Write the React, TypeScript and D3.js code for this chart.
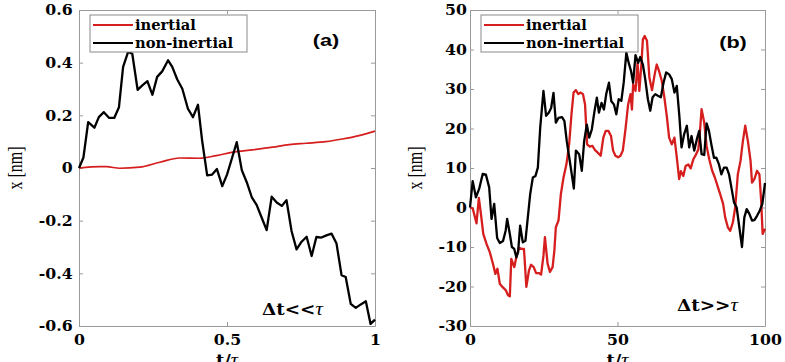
import React, { useEffect, useRef } from 'react';
import * as d3 from 'd3';

// panel (a): dt << tau, [t/tau, x in nm]
const aInertial = [
  [0, 0], [0.071, 0.005], [0.093, 0.005], [0.138, -0.001], [0.205, 0.003], [0.273, 0.022],
  [0.34, 0.038], [0.407, 0.037], [0.464, 0.047], [0.52, 0.06], [0.587, 0.069], [0.654, 0.079],
  [0.71, 0.089], [0.767, 0.094], [0.834, 0.1], [0.89, 0.11], [0.946, 0.123], [1.0, 0.14],
];
const aNonInertial = [
  [0, 0], [0.015, 0.04], [0.031, 0.174], [0.052, 0.153], [0.067, 0.193], [0.084, 0.212],
  [0.102, 0.19], [0.119, 0.19], [0.135, 0.231], [0.149, 0.384], [0.166, 0.441], [0.18, 0.434],
  [0.198, 0.297], [0.214, 0.314], [0.231, 0.33], [0.248, 0.278], [0.264, 0.346], [0.281, 0.367],
  [0.301, 0.409], [0.315, 0.384], [0.332, 0.336], [0.349, 0.301], [0.368, 0.225], [0.385, 0.193],
  [0.402, 0.24], [0.416, 0.104], [0.433, -0.028], [0.45, -0.025], [0.466, -0.004], [0.484, -0.069],
  [0.5, -0.025], [0.517, 0.038], [0.533, 0.098], [0.55, -0.008], [0.567, -0.055], [0.584, -0.112],
  [0.6, -0.14], [0.617, -0.188], [0.634, -0.236], [0.651, -0.109], [0.668, -0.131], [0.685, -0.144],
  [0.701, -0.122], [0.718, -0.239], [0.735, -0.309], [0.752, -0.28], [0.769, -0.261], [0.786, -0.334],
  [0.802, -0.262], [0.819, -0.264], [0.836, -0.256], [0.853, -0.249], [0.87, -0.287], [0.887, -0.407],
  [0.901, -0.414], [0.918, -0.516], [0.935, -0.531], [0.952, -0.518], [0.969, -0.506], [0.985, -0.592],
  [1.0, -0.576],
];

// panel (b): dt >> tau
const bInertial = [
  [0, 0], [0.9, -0.2], [1.7, -2.5], [2.2, -4], [3, 2.4], [3.7, -1.6], [4.5, -6.7], [5.6, -9.2],
  [6.7, -11.3], [7.8, -14.3], [8.6, -16.8], [9.3, -15.5], [10.1, -19.3], [11, -20.1], [12.1, -20.9],
  [12.9, -22.2], [13.5, -22.5], [14, -13], [15, -15.1], [15.7, -12.6], [16.6, -10.2], [17.7, -10.5],
  [18.3, -10.5], [19.1, -20.1], [20, -15.9], [20.7, -14.5], [21.6, -15.1], [22.4, -16.6], [23.3, -16.6],
  [24.1, -17], [24.9, -12.2], [25.4, -7.5], [26.3, -14.2], [27.1, -16.3], [28, -15.1], [28.6, -10.9],
  [29.1, -5], [30, -3.3], [30.8, 3.4], [31.7, 7.6], [32.7, 11], [33.6, 16], [34.4, 23.6], [35.1, 29.1],
  [35.9, 29.7], [36.7, 28.7], [37.4, 29.1], [38.3, 28.7], [39, 26.1], [39.7, 16], [40.6, 15.4],
  [41.5, 15.6], [42.4, 14.5], [43.3, 13.9], [44.3, 13.1], [45.2, 17.7], [46, 19.4], [46.9, 19.4],
  [47.8, 18.1], [48.5, 14.4], [49.3, 13.1], [50.2, 12.7], [51, 13.1], [51.8, 14.4], [52.7, 19.8],
  [53.6, 26.1], [54.4, 28.7], [54.9, 24.8], [55.3, 31.2], [56.1, 29.5], [56.8, 36.6], [57.4, 29.5],
  [58.1, 36.2], [58.6, 42.5], [59.2, 43.4], [60, 42.2], [60.8, 32.9], [61.7, 29.7], [62.6, 33.7],
  [63.3, 36.2], [64.1, 34.5], [65, 32.1], [65.8, 28.3], [66.7, 23.2], [67.5, 17.7], [68.4, 16],
  [69.3, 17.7], [70.1, 12.7], [70.9, 7.2], [71.5, 9.2], [72.3, 8], [73.1, 10.5], [74, 10.9],
  [74.8, 9.9], [75.7, 12.2], [76.6, 13.4], [77.4, 14.7], [77.9, 18.6], [78.5, 24.9], [79.4, 21.5],
  [80.2, 15.6], [81.1, 12.2], [82.1, 9.3], [83, 7.6], [83.9, 5.5], [84.8, 3.4], [85.8, 0.9],
  [86.5, -2.5], [87.4, -5], [88.2, -5.9], [89.1, -3.8], [89.9, 0], [90.8, 8.5], [91.7, 11.8],
  [92.5, 16.8], [93.3, 20.7], [94.2, 16.8], [95.1, 11.8], [95.6, 6.3], [96.4, 7.2], [97.3, 9.3],
  [98.1, 8.4], [98.7, 1.7], [99.2, -6.7], [100, -5.4],
];
const bNonInertial = [
  [0, 0], [0.9, 6.7], [2, 2.6], [3.1, 4.7], [4.3, 8.5], [5.4, 8.3], [6.5, 5.1], [7.3, -2.9],
  [8.2, 0.9], [9.2, -7.7], [10.1, -9], [11.2, -8.5], [12.1, -5.8], [12.6, -2.9], [13.5, -6.7],
  [14.2, -10], [15, -10.5], [15.7, -12.6], [16.3, -11.3], [17, -4.6], [17.9, -8.8], [18.8, -8.4],
  [19.6, -2.5], [20.4, 3.4], [21.3, 7.6], [22.2, 8], [23, 10.1], [23.8, 20.2], [24.9, 29.5],
  [25.8, 23.2], [26.7, 24], [27.5, 25.2], [28.3, 29], [29.1, 21.5], [30, 22.7], [31.2, 22.9],
  [32, 21.9], [32.8, 16.8], [33.9, 11.4], [34.5, 8.4], [35.2, 4.8], [35.9, 14.4], [37, 13.5],
  [37.9, 9.3], [38.7, 16.8], [39.6, 21], [40.4, 17.7], [41.3, 19.8], [42.2, 24.4], [43, 27.8],
  [43.7, 24], [44.6, 26.5], [45.4, 24.8], [46.2, 28.8], [47.1, 31.6], [47.9, 26.9], [48.8, 26.1],
  [49.6, 23.6], [50.4, 27.4], [51.3, 27], [52.1, 31.6], [53, 39.2], [53.8, 36.6], [54.6, 34.5],
  [55.3, 31.6], [56.1, 38.6], [57, 36.6], [57.7, 38.1], [58.6, 36.2], [59.4, 32.5], [60.3, 27.4],
  [61.1, 24.5], [61.9, 27.9], [62.8, 28.7], [63.7, 28.3], [64.7, 27.9], [65.6, 31.6], [66.5, 34.2],
  [67.5, 33.7], [68.4, 32.5], [69.3, 29.1], [70.1, 30.8], [71, 22.8], [71.7, 15.2], [72.6, 18.6],
  [73.5, 20.7], [74.3, 15.2], [75.1, 18.1], [76, 14.4], [76.9, 17.3], [77.7, 19.4], [78.5, 13.5],
  [79.4, 13.3], [80.2, 21.3], [81, 19.4], [81.8, 16], [82.7, 12.6], [83.5, 12.6], [84.4, 10.9],
  [85.2, 8.4], [86.1, 10.1], [87, 10.1], [87.8, 8.4], [88.6, 5.1], [89.5, 1.3], [90.4, 0],
  [91.3, -5], [92.2, -10], [93, -2.5], [93.8, -0.4], [94.7, -1.6], [95.6, -3.3], [96.4, -3.2],
  [97.3, -2.1], [98.2, -0.8], [99.1, 0.9], [100, 6.2],
];

const aYTicks = [-0.6, -0.4, -0.2, 0, 0.2, 0.4, 0.6];
const aXTicks = [0, 0.5, 1];
const bYTicks = [-30, -20, -10, 0, 10, 20, 30, 40, 50];
const bXTicks = [0, 50, 100];
const legendLabels = ['inertial', 'non-inertial'];

const RED = '#d61e1e';
const GRAY = '#9a9a9a';
const SERIF = 'Liberation Serif, serif';
const SERIF_B = 'DejaVu Serif, serif';
const SANS_B = 'Liberation Sans, Arial, sans-serif';
const SX = 1.35; // the original is stretched horizontally
const SXB = 1.05;

// put font settings in the style so nothing inherited wins over them
const font = (sel, family, size, weight = 'normal', style = 'normal') =>
  sel.style('font-family', family).style('font-size', `${size}px`)
    .style('font-weight', weight).style('font-style', style);

const drawPanel = (svg, p) => {
  const { left, right, top, bottom } = p;
  const x = d3.scaleLinear().domain(p.xDomain).range([left, right]);
  const y = d3.scaleLinear().domain(p.yDomain).range([bottom, top]);
  const fmt = (d) => String(d);

  const styleAxis = (g) => {
    g.select('.domain').attr('stroke', GRAY);
    g.selectAll('.tick line').attr('stroke', GRAY);
    g.selectAll('.tick text')
      .attr('fill', '#000')
      .attr('transform', `scale(${SXB},1)`)
      .call(font, SERIF_B, 15, 'bold');
  };

  svg.append('g').attr('transform', `translate(${left},0)`)
    .call(d3.axisLeft(y).tickValues(p.yTicks).tickFormat(fmt).tickSizeInner(-4).tickSizeOuter(0).tickPadding(p.yPad))
    .call(styleAxis);
  svg.append('g').attr('transform', `translate(${right},0)`)
    .call(d3.axisRight(y).tickValues(p.yTicks).tickFormat(() => '').tickSizeInner(-4).tickSizeOuter(0))
    .call(styleAxis);
  svg.append('g').attr('transform', `translate(0,${bottom})`)
    .call(d3.axisBottom(x).tickValues(p.xTicks).tickFormat(fmt).tickSizeInner(-4).tickSizeOuter(0).tickPadding(8))
    .call(styleAxis);
  svg.append('g').attr('transform', `translate(0,${top})`)
    .call(d3.axisTop(x).tickValues(p.xTicks).tickFormat(() => '').tickSizeInner(-4).tickSizeOuter(0))
    .call(styleAxis);

  const line = d3.line().x((d) => x(d[0])).y((d) => y(d[1]));
  const smoothLine = d3.line().x((d) => x(d[0])).y((d) => y(d[1])).curve(d3.curveMonotoneX);
  svg.append('path')
    .attr('d', p.smooth ? smoothLine(p.inertial) : line(p.inertial))
    .attr('fill', 'none').attr('stroke', RED).attr('stroke-width', p.redWidth)
    .attr('stroke-linejoin', 'round');
  svg.append('path')
    .attr('d', line(p.nonInertial))
    .attr('fill', 'none').attr('stroke', '#000').attr('stroke-width', 2.3)
    .attr('stroke-linejoin', 'round');

  // legend
  const lg = svg.append('g').attr('transform', `translate(${left + 11},${top + 5})`);
  lg.append('rect').attr('width', 157).attr('height', 37)
    .attr('fill', '#fff').attr('stroke', '#8a8a8a').attr('stroke-width', 1);
  legendLabels.forEach((lab, i) => {
    const yy = 10 + i * 18;
    lg.append('line').attr('x1', 3).attr('x2', 43).attr('y1', yy).attr('y2', yy)
      .attr('stroke', i === 0 ? RED : '#000').attr('stroke-width', 2);
    lg.append('text').attr('transform', `translate(45,${yy + 5}) scale(${SXB},1)`)
      .call(font, SERIF_B, 14, 'bold')
      .text(lab);
  });

  // panel tag
  svg.append('text').attr('transform', `translate(${p.tagX},${p.tagY}) scale(${SX},1)`)
    .attr('text-anchor', 'middle')
    .call(font, SANS_B, 16, 'bold')
    .text(p.tag);

  // regime note
  const note = svg.append('text').attr('transform', `translate(${p.noteX},${p.noteY}) scale(1.08,1)`);
  note.append('tspan').call(font, SERIF_B, 17, 'bold').text('Δt' + p.rel);
  note.append('tspan').call(font, SERIF, 19, 'normal', 'italic').text('τ');

  // axis titles
  svg.append('text').attr('transform', `translate(${p.yLabelX},${(top + bottom) / 2}) scale(${SX},1) rotate(-90)`)
    .attr('text-anchor', 'middle')
    .call(font, SERIF, 16)
    .text('x [nm]');
  const xl = svg.append('text').attr('transform', `translate(${(left + right) / 2},366) scale(${SXB},1)`)
    .attr('text-anchor', 'middle');
  xl.append('tspan').call(font, SERIF_B, 17, 'bold').text('t/');
  xl.append('tspan').call(font, SERIF, 19, 'normal', 'italic').text('τ');
};

const App = () => {
  const ref = useRef(null);

  useEffect(() => {
    if (!ref.current) return;
    const svg = d3.select(ref.current);
    svg.selectAll('*').remove();

    drawPanel(svg, {
      left: 79, right: 375, top: 10, bottom: 326,
      xDomain: [0, 1], yDomain: [-0.6, 0.6], xTicks: aXTicks, yTicks: aYTicks, yPad: 6,
      inertial: aInertial, nonInertial: aNonInertial, smooth: true, redWidth: 1.7,
      tag: '(a)', tagX: 326, tagY: 46, noteX: 262, noteY: 315, rel: '<<', yLabelX: 22,
    });
    drawPanel(svg, {
      left: 470, right: 765, top: 10, bottom: 326,
      xDomain: [0, 100], yDomain: [-30, 50], xTicks: bXTicks, yTicks: bYTicks, yPad: 3,
      inertial: bInertial, nonInertial: bNonInertial, smooth: false, redWidth: 2.3,
      tag: '(b)', tagX: 733, tagY: 48, noteX: 677, noteY: 311, rel: '>>', yLabelX: 422,
    });
  }, []);

  return (
    <svg ref={ref} width={785} height={362}
      style={{ position: 'absolute', left: 0, top: 0, background: '#fff' }} />
  );
};

export default App;
